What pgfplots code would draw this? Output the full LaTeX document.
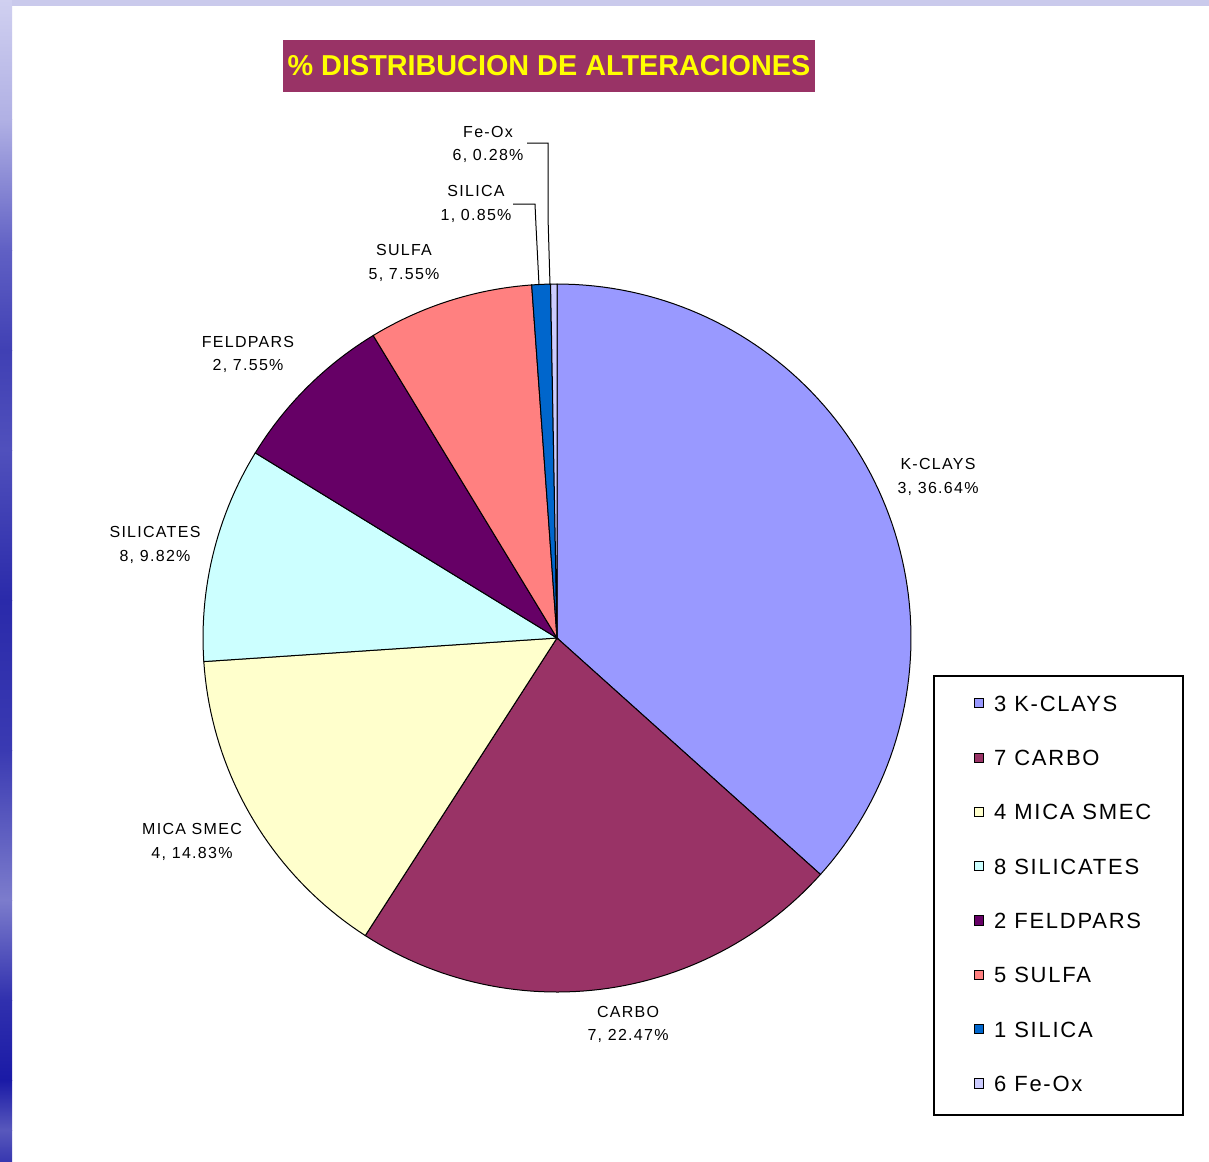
\documentclass[border=0pt]{standalone}
\usepackage{pgfplots}
\pgfplotsset{compat=1.18}
\usepackage{fontspec}
\setmainfont{Liberation Sans}
\newfontfamily\lblfont[LetterSpace=8]{Liberation Sans}
\newfontfamily\legfont[LetterSpace=8]{Liberation Sans}
\definecolor{kclays}{HTML}{9999FF}
\definecolor{carbo}{HTML}{993366}
\definecolor{mica}{HTML}{FFFFCC}
\definecolor{silicates}{HTML}{CCFFFF}
\definecolor{feldpars}{HTML}{660066}
\definecolor{sulfa}{HTML}{FF8080}
\definecolor{silica}{HTML}{0066CC}
\definecolor{feox}{HTML}{CCCCFF}
\definecolor{titlebg}{HTML}{993366}
\definecolor{titletxt}{HTML}{FFFF00}
\definecolor{bgtop}{HTML}{CACAEC}
\definecolor{s0}{HTML}{D0D0F0}
\definecolor{s1}{HTML}{B0B0E4}
\definecolor{s2}{HTML}{6060C4}
\definecolor{s3}{HTML}{4040B4}
\definecolor{s4}{HTML}{5050BC}
\definecolor{s5}{HTML}{2A2AAA}
\definecolor{s6}{HTML}{3A3AB2}
\definecolor{s7}{HTML}{7C7CCC}
\definecolor{s8}{HTML}{3030AE}
\definecolor{s9}{HTML}{1A1AA6}
\definecolor{s10}{HTML}{5858BC}
\definecolor{s11}{HTML}{3838B0}
\begin{document}
% percentages (clockwise from 12 o'clock):
% K-CLAYS 36.64, CARBO 22.47, MICA SMEC 14.83, SILICATES 9.82,
% FELDPARS 7.55, SULFA 7.55, SILICA 0.85, Fe-Ox 0.28
% slice boundary angle = 90 - 3.6 * cumulative percentage
\begin{tikzpicture}[x=0.5pt,y=-0.5pt]
\useasboundingbox (0,0) rectangle (1209,1161);
\fill[white] (0,0) rectangle (1209,1161);
\fill[bgtop] (0,0) rectangle (1209,6);
\shade[top color=s0, bottom color=s1] (0,0) rectangle (12,120);
\shade[top color=s1, bottom color=s2] (0,120) rectangle (12,250);
\shade[top color=s2, bottom color=s3] (0,250) rectangle (12,350);
\shade[top color=s3, bottom color=s4] (0,350) rectangle (12,450);
\shade[top color=s4, bottom color=s5] (0,450) rectangle (12,600);
\shade[top color=s5, bottom color=s6] (0,600) rectangle (12,750);
\shade[top color=s6, bottom color=s7] (0,750) rectangle (12,900);
\shade[top color=s7, bottom color=s8] (0,900) rectangle (12,1000);
\shade[top color=s8, bottom color=s9] (0,1000) rectangle (12,1080);
\shade[top color=s9, bottom color=s10] (0,1080) rectangle (12,1130);
\shade[top color=s10, bottom color=s11] (0,1130) rectangle (12,1161);
\begin{axis}[at={(0,0)}, anchor=north west, scale only axis,
  width=604.5pt, height=580.5pt,
  xmin=0, xmax=1209, ymin=0, ymax=1161, y dir=reverse,
  hide axis, clip=false,
  legend cell align=left,
  legend image code/.code={\draw[#1,draw=black,line width=0.5pt] (0pt,-2.3pt) rectangle (4.6pt,2.3pt);},
  legend style={at={(axis cs:974,695.5)}, anchor=north west, draw=none, fill=none,
    inner sep=0pt, outer sep=0pt, row sep=19.3pt,
    font=\legfont\fontsize{11}{12}\selectfont,
    nodes={inner sep=0pt, text height=7.85pt, text depth=0pt},
    /tikz/every odd column/.append style={column sep=5pt}},
  every axis plot/.append style={draw=black, line width=0.5pt}
]
\addplot[fill=kclays, domain=-41.904:90, samples=90] ({557+354*cos(x)},{638-354*sin(x)}) -- (axis cs:557,638) -- cycle;
\addlegendentry{3 K-CLAYS}
\addplot[fill=carbo, domain=-122.796:-41.904, samples=60] ({557+354*cos(x)},{638-354*sin(x)}) -- (axis cs:557,638) -- cycle;
\addlegendentry{7 CARBO}
\addplot[fill=mica, domain=-176.184:-122.796, samples=40] ({557+354*cos(x)},{638-354*sin(x)}) -- (axis cs:557,638) -- cycle;
\addlegendentry{4 MICA SMEC}
\addplot[fill=silicates, domain=-211.536:-176.184, samples=30] ({557+354*cos(x)},{638-354*sin(x)}) -- (axis cs:557,638) -- cycle;
\addlegendentry{8 SILICATES}
\addplot[fill=feldpars, domain=-238.716:-211.536, samples=25] ({557+354*cos(x)},{638-354*sin(x)}) -- (axis cs:557,638) -- cycle;
\addlegendentry{2 FELDPARS}
\addplot[fill=sulfa, domain=-265.896:-238.716, samples=25] ({557+354*cos(x)},{638-354*sin(x)}) -- (axis cs:557,638) -- cycle;
\addlegendentry{5 SULFA}
\addplot[fill=silica, domain=-268.956:-265.896, samples=4] ({557+354*cos(x)},{638-354*sin(x)}) -- (axis cs:557,638) -- cycle;
\addlegendentry{1 SILICA}
\addplot[fill=feox, domain=-270:-268.956, samples=3] ({557+354*cos(x)},{638-354*sin(x)}) -- (axis cs:557,638) -- cycle;
\addlegendentry{6 Fe-Ox}
% leader lines
\addplot[forget plot, black, line width=0.5pt] coordinates {(527,143) (548,143) (548,217) (550,285)};
\addplot[forget plot, black, line width=0.5pt] coordinates {(513,204) (535,204) (536,226) (539,285)};
% legend frame
\draw[black, line width=0.8pt] (axis cs:934,676) rectangle (axis cs:1183,1115);
% title
\node[fill=titlebg, minimum width=266pt, minimum height=26pt, inner sep=0pt,
  text=titletxt, font=\bfseries\fontsize{14.4}{16}\selectfont] at (axis cs:549,66)
  {\% DISTRIBUCION DE ALTERACIONES};
% data labels
\begin{scope}[every node/.style={font=\lblfont\fontsize{8}{11.75}\selectfont, align=center, inner sep=0pt}]
\node at (axis cs:488,144.5) {Fe-Ox\\6, 0.28\%};
\node at (axis cs:476,204) {SILICA\\1, 0.85\%};
\node at (axis cs:404,263) {SULFA\\5, 7.55\%};
\node at (axis cs:248,354.5) {FELDPARS\\2, 7.55\%};
\node at (axis cs:155,545) {SILICATES\\8, 9.82\%};
\node at (axis cs:192,842) {MICA SMEC\\4, 14.83\%};
\node at (axis cs:628,1024.5) {CARBO\\7, 22.47\%};
\node at (axis cs:938,477) {K-CLAYS\\3, 36.64\%};
\end{scope}
\end{axis}
\end{tikzpicture}
\end{document}
